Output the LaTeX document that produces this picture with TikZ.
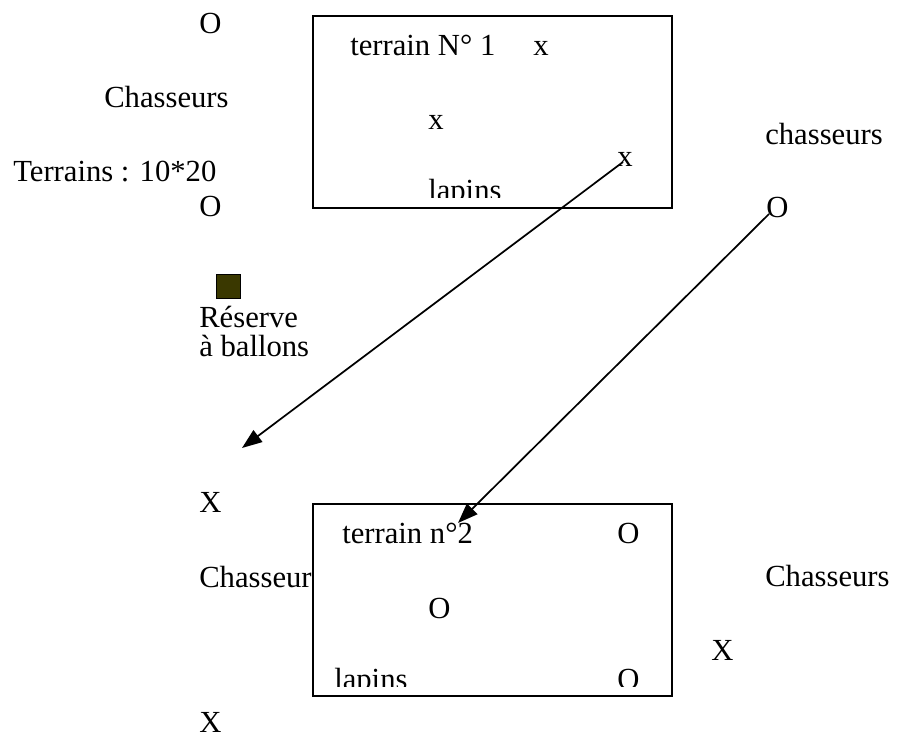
\documentclass[tikz,border=0pt]{standalone}
\usepackage{fontspec}
\setmainfont{Liberation Serif}
\usetikzlibrary{arrows.meta}
\definecolor{reserve}{HTML}{3A3800}
\begin{document}
\begin{tikzpicture}[x=0.75pt,y=-0.75pt,
  lbl/.style={anchor=base west,inner sep=0pt,font=\fontsize{23}{28}\selectfont},
  field/.style={draw,line width=1.5pt,fill=white},
  conn/.style={line width=1.3pt,-{Triangle[length=15pt,width=11pt]}}]
\useasboundingbox (0,0) rectangle (897,738);
% outer labels
\node[lbl] (o1) at (199,34) {O};
\node[lbl] (ch1) at (104,108) {Chasseurs};
\node[lbl] (ter) at (13,182) {Terrains : 10*20};
\node[lbl] (o2) at (199,217) {O};
\node[lbl] (ch2) at (765,145) {chasseurs};
\node[lbl] (o3) at (766,218) {O};
\node[draw,line width=1.1pt,fill=reserve,minimum size=18pt,inner sep=0pt] (res) at (228.5,286.5) {};
\node[lbl] (res1) at (199,328) {Réserve};
\node[lbl] (res2) at (199,357) {à ballons};
\node[lbl] (x1) at (199,512) {X};
\node[lbl] (ch3) at (199,587) {Chasseur};
\node[lbl] (ch4) at (765,586) {Chasseurs};
\node[lbl] (x2) at (711,660) {X};
\node[lbl] (x3) at (199,732) {X};
% field 1
\path[field] (313,16) rectangle (672,208);
\begin{scope}
\clip (315,18) rectangle (670,198);
\node[lbl] (t1) at (350,56) {terrain N° 1};
\node[lbl] (a1) at (533,56) {x};
\node[lbl] (a2) at (428,130) {x};
\node[lbl] (a3) at (617,167) {x};
\node[lbl] (l1) at (428,201) {lapins};
\end{scope}
% field 2
\path[field] (313,504) rectangle (672,696);
\begin{scope}
\clip (315,506) rectangle (670,686);
\node[lbl] (t2) at (342,543) {terrain n°2};
\node[lbl] (b1) at (617,543) {O};
\node[lbl] (b2) at (428,618) {O};
\node[lbl] (l2) at (334,689) {lapins};
\node[lbl] (b3) at (617,689) {O};
\end{scope}
% connectors
\coordinate (s1) at (623,162);
\coordinate (e1) at (242,448);
\coordinate (s2) at (769,214);
\coordinate (e2) at (458,523);
\draw[conn] (s1) -- (e1);
\draw[conn] (s2) -- (e2);
\end{tikzpicture}
\end{document}
